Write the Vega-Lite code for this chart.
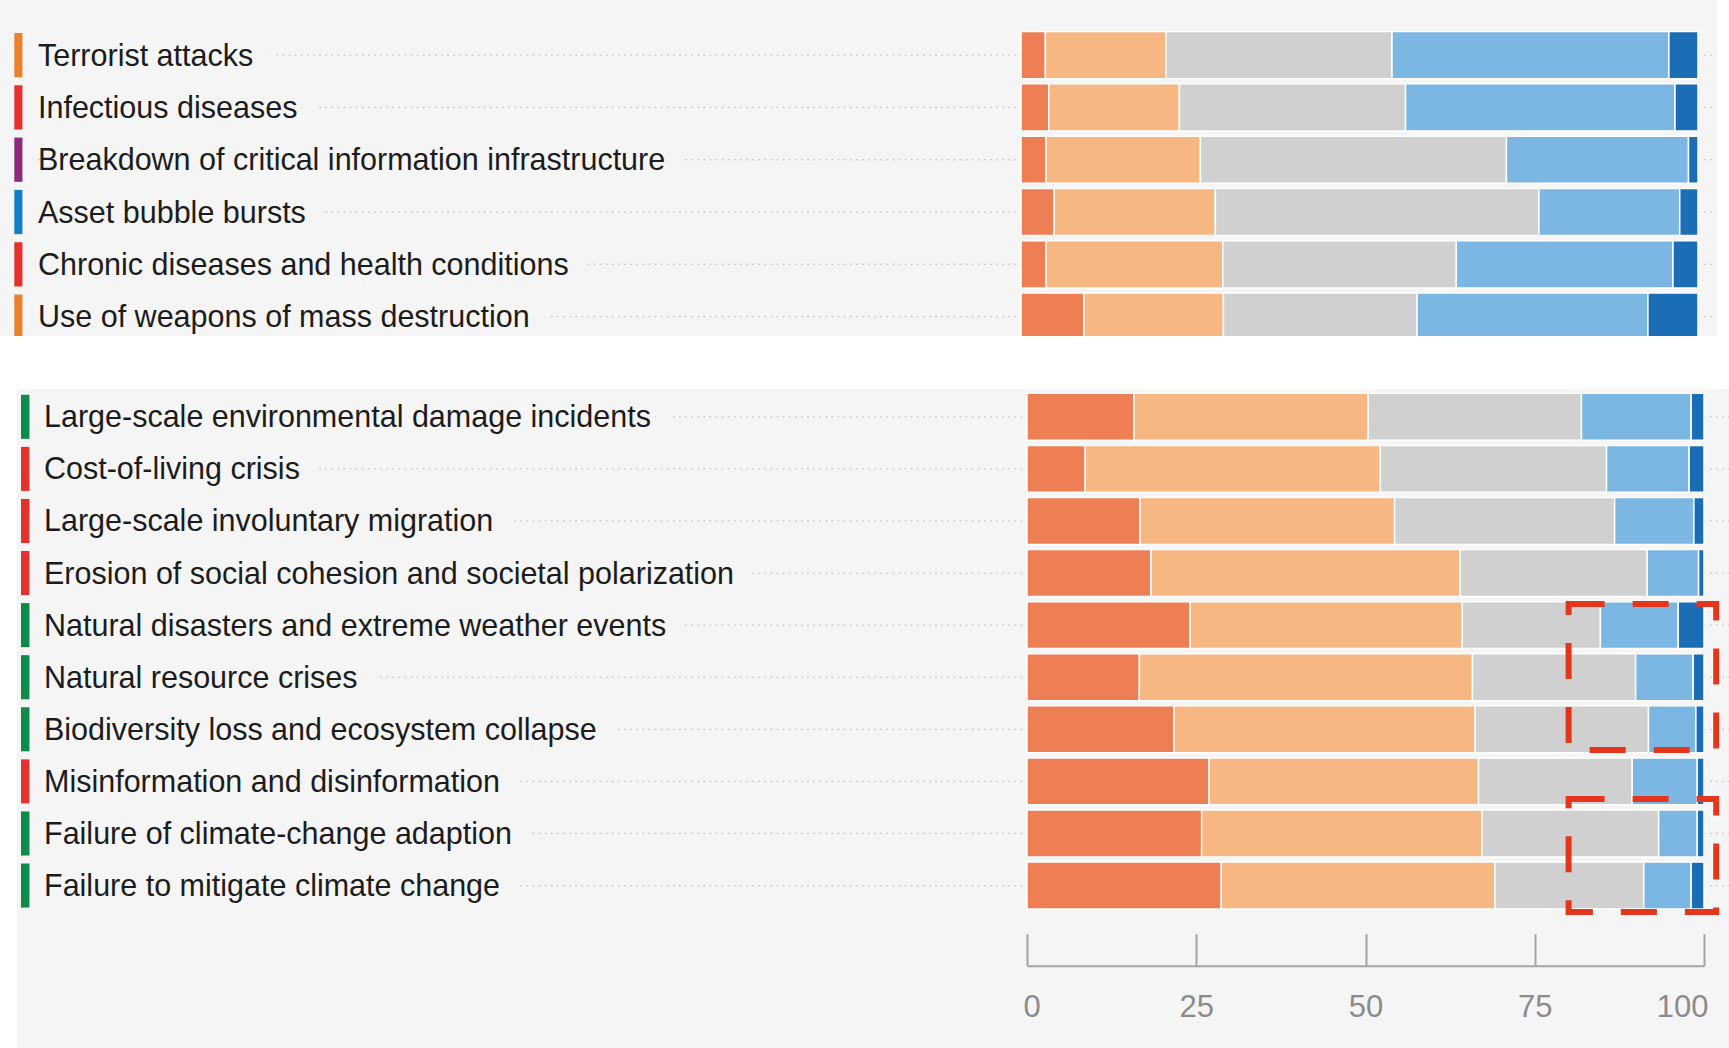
{
  "$schema": "https://vega.github.io/schema/vega-lite/v6.json",
  "autosize": {"type": "pad"},
  "padding": 0,
  "background": "#ffffff",
  "spacing": 53,
  "bounds": "flush",
  "config": {"view": {"fill": "#f5f5f5", "stroke": null}, "font": "Liberation Sans"},
  "datasets": {
    "risks": [
      {"risk": "Terrorist attacks", "panel": "top", "cat": "Geopolitical", "s1": 3.6, "s2": 17.8, "s3": 33.4, "s4": 40.9, "s5": 4.3},
      {"risk": "Infectious diseases", "panel": "top", "cat": "Societal", "s1": 4.1, "s2": 19.3, "s3": 33.4, "s4": 39.8, "s5": 3.4},
      {"risk": "Breakdown of critical information infrastructure", "panel": "top", "cat": "Technological", "s1": 3.7, "s2": 22.8, "s3": 45.2, "s4": 26.9, "s5": 1.4},
      {"risk": "Asset bubble bursts", "panel": "top", "cat": "Economic", "s1": 4.9, "s2": 23.8, "s3": 47.8, "s4": 20.8, "s5": 2.7},
      {"risk": "Chronic diseases and health conditions", "panel": "top", "cat": "Societal", "s1": 3.7, "s2": 26.1, "s3": 34.5, "s4": 32.0, "s5": 3.7},
      {"risk": "Use of weapons of mass destruction", "panel": "top", "cat": "Geopolitical", "s1": 9.3, "s2": 20.6, "s3": 28.6, "s4": 34.1, "s5": 7.4},
      {"risk": "Large-scale environmental damage incidents", "panel": "bottom", "cat": "Environmental", "s1": 15.8, "s2": 34.6, "s3": 31.5, "s4": 16.2, "s5": 1.9},
      {"risk": "Cost-of-living crisis", "panel": "bottom", "cat": "Societal", "s1": 8.6, "s2": 43.6, "s3": 33.4, "s4": 12.2, "s5": 2.2},
      {"risk": "Large-scale involuntary migration", "panel": "bottom", "cat": "Societal", "s1": 16.7, "s2": 37.6, "s3": 32.5, "s4": 11.7, "s5": 1.5},
      {"risk": "Erosion of social cohesion and societal polarization", "panel": "bottom", "cat": "Societal", "s1": 18.3, "s2": 45.7, "s3": 27.6, "s4": 7.6, "s5": 0.8},
      {"risk": "Natural disasters and extreme weather events", "panel": "bottom", "cat": "Environmental", "s1": 24.1, "s2": 40.2, "s3": 20.4, "s4": 11.5, "s5": 3.8},
      {"risk": "Natural resource crises", "panel": "bottom", "cat": "Environmental", "s1": 16.6, "s2": 49.2, "s3": 24.1, "s4": 8.5, "s5": 1.6},
      {"risk": "Biodiversity loss and ecosystem collapse", "panel": "bottom", "cat": "Environmental", "s1": 21.7, "s2": 44.5, "s3": 25.6, "s4": 7.0, "s5": 1.2},
      {"risk": "Misinformation and disinformation", "panel": "bottom", "cat": "Societal", "s1": 26.9, "s2": 39.8, "s3": 22.7, "s4": 9.6, "s5": 1.0},
      {"risk": "Failure of climate-change adaption", "panel": "bottom", "cat": "Environmental", "s1": 25.8, "s2": 41.4, "s3": 26.1, "s4": 5.7, "s5": 1.0},
      {"risk": "Failure to mitigate climate change", "panel": "bottom", "cat": "Environmental", "s1": 28.7, "s2": 40.4, "s3": 22.0, "s4": 7.0, "s5": 1.9}
    ]
  },
  "vconcat": [
    {
      "width": 1717,
      "height": 336,
      "data": {"name": "risks"},
      "transform": [{"filter": "datum.panel === 'top'"}],
      "encoding": {
        "y": {
          "field": "risk", "type": "nominal", "axis": null,
          "scale": {
            "domain": ["Terrorist attacks", "Infectious diseases", "Breakdown of critical information infrastructure", "Asset bubble bursts", "Chronic diseases and health conditions", "Use of weapons of mass destruction"],
            "range": [28.95, 342.8], "paddingInner": 0.1, "paddingOuter": 0.05
          }
        }
      },
      "layer": [
        {
          "mark": {"type": "rule", "color": "#bdbdbd", "strokeWidth": 1.3, "strokeDash": [1.5, 4.6], "clip": true},
          "encoding": {
            "x": {"datum": -146, "type": "quantitative", "scale": {"domain": [0, 100], "range": [1021, 1698], "nice": false, "zero": false}, "axis": null},
            "x2": {"datum": 102.7}
          }
        },
        {
          "mark": {"type": "text", "align": "left", "baseline": "middle", "dy": 1.5, "fontSize": 30.5, "font": "Liberation Sans", "fill": "#f5f5f5", "stroke": "#f5f5f5", "strokeWidth": 40, "strokeJoin": "round", "clip": true},
          "encoding": {
            "x": {"datum": -145.2, "type": "quantitative", "scale": {"domain": [0, 100], "range": [1021, 1698], "nice": false, "zero": false}, "axis": null},
            "text": {"field": "risk"}
          }
        },
        {
          "transform": [{"fold": ["s1", "s2", "s3", "s4", "s5"], "as": ["level", "share"]}],
          "mark": {"type": "bar", "stroke": "#ffffff", "strokeWidth": 1.5, "clip": true},
          "encoding": {
            "x": {"field": "share", "type": "quantitative", "stack": "zero", "scale": {"domain": [0, 100], "range": [1021, 1698], "nice": false, "zero": false}, "axis": null},
            "color": {"field": "level", "type": "nominal", "legend": null, "scale": {"domain": ["s1", "s2", "s3", "s4", "s5"], "range": ["#ee7f55", "#f6b783", "#d0d0d0", "#7cb6e2", "#1b6eb5"]}}
          }
        },
        {
          "mark": {"type": "bar", "clip": true, "height": {"band": 0.94}},
          "encoding": {
            "x": {"datum": -148.7, "type": "quantitative", "scale": {"domain": [0, 100], "range": [1021, 1698], "nice": false, "zero": false}, "axis": null},
            "x2": {"datum": -147.5},
            "fill": {"field": "cat", "type": "nominal", "legend": null, "scale": {"domain": ["Geopolitical", "Societal", "Technological", "Economic", "Environmental"], "range": ["#e9822c", "#e3322e", "#8b2b7e", "#1380c6", "#0e8a4b"]}}
          }
        },
        {
          "mark": {"type": "text", "align": "left", "baseline": "middle", "dy": 1.5, "fontSize": 30.5, "font": "Liberation Sans", "color": "#1c1c1c", "clip": true},
          "encoding": {
            "x": {"datum": -145.2, "type": "quantitative", "scale": {"domain": [0, 100], "range": [1021, 1698], "nice": false, "zero": false}, "axis": null},
            "text": {"field": "risk"}
          }
        }
      ]
    },
    {
      "width": 1729,
      "height": 659,
      "data": {"name": "risks"},
      "transform": [{"filter": "datum.panel === 'bottom'"}],
      "encoding": {
        "y": {
          "field": "risk", "type": "nominal", "axis": null,
          "scale": {
            "domain": ["Large-scale environmental damage incidents", "Cost-of-living crisis", "Large-scale involuntary migration", "Erosion of social cohesion and societal polarization", "Natural disasters and extreme weather events", "Natural resource crises", "Biodiversity loss and ecosystem collapse", "Misinformation and disinformation", "Failure of climate-change adaption", "Failure to mitigate climate change"],
            "range": [1.76, 522.6], "paddingInner": 0.1, "paddingOuter": 0.05
          }
        }
      },
      "layer": [
        {
          "data": {"values": [{}]},
          "mark": {"type": "rect", "fill": "#ffffff", "clip": true},
          "encoding": {
            "x": {"datum": -152, "type": "quantitative", "scale": {"domain": [0, 100], "range": [1027, 1704], "nice": false, "zero": false}},
            "x2": {"datum": -149.2},
            "y": {"datum": "Large-scale environmental damage incidents", "type": "nominal", "bandPosition": -0.2},
            "y2": {"datum": "Failure to mitigate climate change", "bandPosition": 4.2}
          }
        },
        {
          "mark": {"type": "rule", "color": "#bdbdbd", "strokeWidth": 1.3, "strokeDash": [1.5, 4.6]},
          "encoding": {
            "x": {"datum": -146, "type": "quantitative", "scale": {"domain": [0, 100], "range": [1027, 1704], "nice": false, "zero": false}},
            "x2": {"datum": 103.7}
          }
        },
        {
          "mark": {"type": "text", "align": "left", "baseline": "middle", "dy": 1.5, "fontSize": 30.5, "font": "Liberation Sans", "fill": "#f5f5f5", "stroke": "#f5f5f5", "strokeWidth": 40, "strokeJoin": "round", "clip": true},
          "encoding": {
            "x": {"datum": -145.2, "type": "quantitative", "scale": {"domain": [0, 100], "range": [1027, 1704], "nice": false, "zero": false}},
            "text": {"field": "risk"}
          }
        },
        {
          "transform": [{"fold": ["s1", "s2", "s3", "s4", "s5"], "as": ["level", "share"]}],
          "mark": {"type": "bar", "stroke": "#ffffff", "strokeWidth": 1.5},
          "encoding": {
            "x": {
              "field": "share", "type": "quantitative", "stack": "zero",
              "scale": {"domain": [0, 100], "range": [1027, 1704], "nice": false, "zero": false},
              "axis": {"values": [0, 25, 50, 75, 100], "title": null, "orient": "bottom", "offset": -82.3, "grid": false, "ticks": true, "tickSize": -32, "tickWidth": 2, "tickColor": "#a3a3a3", "domain": true, "domainColor": "#a3a3a3", "domainWidth": 2, "labelColor": "#8c8c8c", "labelFontSize": 31, "labelFont": "Liberation Sans", "labelFlush": true, "labelFlushOffset": 4, "labelPadding": 74, "labelBaseline": "middle"}
            },
            "color": {"field": "level", "type": "nominal", "legend": null, "scale": {"domain": ["s1", "s2", "s3", "s4", "s5"], "range": ["#ee7f55", "#f6b783", "#d0d0d0", "#7cb6e2", "#1b6eb5"]}}
          }
        },
        {
          "mark": {"type": "bar", "height": {"band": 0.94}},
          "encoding": {
            "x": {"datum": -148.6, "type": "quantitative", "scale": {"domain": [0, 100], "range": [1027, 1704], "nice": false, "zero": false}},
            "x2": {"datum": -147.35},
            "fill": {"field": "cat", "type": "nominal", "legend": null, "scale": {"domain": ["Geopolitical", "Societal", "Technological", "Economic", "Environmental"], "range": ["#e9822c", "#e3322e", "#8b2b7e", "#1380c6", "#0e8a4b"]}}
          }
        },
        {
          "mark": {"type": "text", "align": "left", "baseline": "middle", "dy": 1.5, "fontSize": 30.5, "font": "Liberation Sans", "color": "#1c1c1c"},
          "encoding": {
            "x": {"datum": -145.2, "type": "quantitative", "scale": {"domain": [0, 100], "range": [1027, 1704], "nice": false, "zero": false}},
            "text": {"field": "risk"}
          }
        },
        {
          "data": {"values": [{}]},
          "mark": {"type": "rect", "fillOpacity": 0, "stroke": "#e3361c", "strokeWidth": 6, "strokeDash": [36, 28]},
          "encoding": {
            "x": {"datum": 80, "type": "quantitative", "scale": {"domain": [0, 100], "range": [1027, 1704], "nice": false, "zero": false}},
            "x2": {"datum": 101.8},
            "y": {"datum": "Natural disasters and extreme weather events", "type": "nominal", "bandPosition": 0.05},
            "y2": {"datum": "Biodiversity loss and ecosystem collapse", "bandPosition": 0.94}
          }
        },
        {
          "data": {"values": [{}]},
          "mark": {"type": "rect", "fillOpacity": 0, "stroke": "#e3361c", "strokeWidth": 6, "strokeDash": [36, 28]},
          "encoding": {
            "x": {"datum": 80, "type": "quantitative", "scale": {"domain": [0, 100], "range": [1027, 1704], "nice": false, "zero": false}},
            "x2": {"datum": 101.8},
            "y": {"datum": "Misinformation and disinformation", "type": "nominal", "bandPosition": 0.875},
            "y2": {"datum": "Failure to mitigate climate change", "bandPosition": 1.065}
          }
        }
      ]
    }
  ]
}
